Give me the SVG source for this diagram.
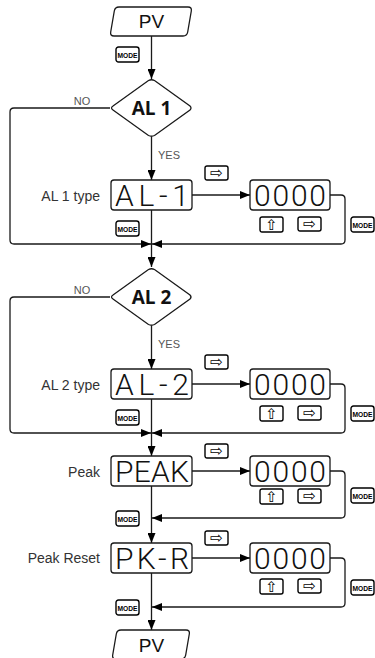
<svg xmlns="http://www.w3.org/2000/svg" width="375" height="658" viewBox="0 0 375 658">
<style>
.ln{fill:none;stroke:#1a1a1a;stroke-width:1.3}
.sh{fill:#fff;stroke:#1a1a1a;stroke-width:1.3}
.btn{fill:#fff;stroke:#000;stroke-width:1.4}
.seg{font-family:Roboto,"Liberation Sans",sans-serif;font-weight:300;font-size:30px;fill:#111}
.lbl{font-family:"Liberation Sans",Arial,sans-serif;font-size:14px;fill:#333}
.yn{font-family:"Liberation Sans",Arial,sans-serif;font-size:11px;fill:#555}
.dm{font-family:"Open Sans","Noto Sans",sans-serif;font-weight:bold;font-size:19px;fill:#111}
.pv{font-family:"Liberation Sans",Arial,sans-serif;font-size:19px;fill:#111}
.md{font-family:"Liberation Sans",Arial,sans-serif;font-weight:bold;font-size:7.5px;fill:#000}
.ar{font-family:"DejaVu Sans",sans-serif;font-size:15px;fill:#000}
</style>
<defs>
<marker id="ah" markerUnits="userSpaceOnUse" markerWidth="10" markerHeight="8" refX="10" refY="4" orient="auto"><path d="M0,0 L10,4 L0,8 z" fill="#000"/></marker>
<g id="mode"><rect class="btn" x="0" y="0" width="23" height="15" rx="2.5"/><text class="md" x="11.5" y="10.5" text-anchor="middle" textLength="20" lengthAdjust="spacingAndGlyphs">MODE</text></g>
<g id="rt"><rect class="btn" x="0" y="0" width="23" height="14" rx="2"/><text class="ar" x="11.5" y="12" text-anchor="middle">⇨</text></g>
<g id="up"><rect class="btn" x="0" y="0" width="23" height="15" rx="2"/><text class="ar" x="11.5" y="13" text-anchor="middle">⇧</text></g>
</defs>

<g id="connectors">
<path class="ln" d="M151.5,36 V79" marker-end="url(#ah)"/>
<path class="ln" d="M151.5,137 V180" marker-end="url(#ah)"/>
<path class="ln" d="M192,195 H250" marker-end="url(#ah)"/>
<path class="ln" d="M110,108 H14 Q10,108 10,112 V240 Q10,244 14,244 H151" marker-end="url(#ah)"/>
<path class="ln" d="M330,195 H341 Q345,195 345,199 V240 Q345,244 341,244 H152" marker-end="url(#ah)"/>
<path class="ln" d="M151.5,210 V267" marker-end="url(#ah)"/>
<path class="ln" d="M151.5,326 V369" marker-end="url(#ah)"/>
<path class="ln" d="M192,384 H250" marker-end="url(#ah)"/>
<path class="ln" d="M110,297 H14 Q10,297 10,301 V429 Q10,433 14,433 H151" marker-end="url(#ah)"/>
<path class="ln" d="M330,384 H341 Q345,384 345,388 V429 Q345,433 341,433 H152" marker-end="url(#ah)"/>
<path class="ln" d="M151.5,399 V456" marker-end="url(#ah)"/>
<path class="ln" d="M192,471 H250" marker-end="url(#ah)"/>
<path class="ln" d="M330,471 H341 Q345,471 345,475 V514 Q345,518 341,518 H152" marker-end="url(#ah)"/>
<path class="ln" d="M151.5,486 V543" marker-end="url(#ah)"/>
<path class="ln" d="M192,558 H250" marker-end="url(#ah)"/>
<path class="ln" d="M330,558 H341 Q345,558 345,562 V603 Q345,607 341,607 H152" marker-end="url(#ah)"/>
<path class="ln" d="M151.5,573 V630" marker-end="url(#ah)"/>
<text class="yn" x="82" y="105" text-anchor="middle">NO</text>
<text class="yn" x="158" y="159">YES</text>
<text class="yn" x="82" y="294" text-anchor="middle">NO</text>
<text class="yn" x="158" y="348">YES</text>
<use href="#mode" x="116" y="47"/>
<use href="#mode" x="116" y="221"/>
<use href="#mode" x="116" y="410"/>
<use href="#mode" x="116" y="511"/>
<use href="#mode" x="116" y="600"/>
<use href="#mode" x="351" y="217"/>
<use href="#mode" x="351" y="406"/>
<use href="#mode" x="351" y="488"/>
<use href="#mode" x="351" y="580"/>
</g>

<g id="pv-top">
<path class="sh" d="M119,7 L188,7 Q192,7 191.3,11 L187.7,32 Q187,36 183,36 L114,36 Q110,36 110.7,32 L114.3,11 Q115,7 119,7 Z"/>
<text class="pv" x="151.5" y="28" text-anchor="middle">PV</text>
</g>

<g id="al1">
<path class="sh" d="M113,106 L148.5,80.5 Q151.5,79 154.5,80.5 L190,106 Q192,108 190,110 L154.5,135.5 Q151.5,137 148.5,135.5 L113,110 Q110,108 113,106 Z"/>
<text class="dm" x="151.5" y="115" text-anchor="middle">AL 1</text>
</g>

<g id="al1-type">
<text class="lbl" x="100" y="201" text-anchor="end">AL 1 type</text>
<rect class="sh" x="111" y="180" width="81" height="30" rx="3"/>
<text class="seg" x="115" y="206" textLength="74" lengthAdjust="spacing">AL-1</text>
<use href="#rt" x="205" y="166"/>
</g>
<g id="al1-val">
<rect class="sh" x="250" y="180" width="80" height="30" rx="3"/>
<text class="seg" x="254" y="206" textLength="72" lengthAdjust="spacing">0000</text>
<use href="#up" x="260" y="217"/>
<use href="#rt" x="298" y="217"/>
</g>

<g id="al2">
<path class="sh" d="M113,295 L148.5,269.5 Q151.5,268 154.5,269.5 L190,295 Q192,297 190,299 L154.5,324.5 Q151.5,326 148.5,324.5 L113,299 Q110,297 113,295 Z"/>
<text class="dm" x="151.5" y="304" text-anchor="middle">AL 2</text>
</g>

<g id="al2-type">
<text class="lbl" x="100" y="390" text-anchor="end">AL 2 type</text>
<rect class="sh" x="111" y="369" width="81" height="30" rx="3"/>
<text class="seg" x="115" y="395" textLength="74" lengthAdjust="spacing">AL-2</text>
<use href="#rt" x="205" y="355"/>
</g>
<g id="al2-val">
<rect class="sh" x="250" y="369" width="80" height="30" rx="3"/>
<text class="seg" x="254" y="395" textLength="72" lengthAdjust="spacing">0000</text>
<use href="#up" x="260" y="406"/>
<use href="#rt" x="298" y="406"/>
</g>

<g id="peak">
<text class="lbl" x="100" y="477" text-anchor="end">Peak</text>
<rect class="sh" x="111" y="456" width="81" height="30" rx="3"/>
<text class="seg" x="115" y="482" textLength="74" lengthAdjust="spacing">PEAK</text>
<use href="#rt" x="205" y="444"/>
</g>
<g id="peak-val">
<rect class="sh" x="250" y="456" width="80" height="30" rx="3"/>
<text class="seg" x="254" y="482" textLength="72" lengthAdjust="spacing">0000</text>
<use href="#up" x="260" y="489"/>
<use href="#rt" x="298" y="489"/>
</g>

<g id="pk-r">
<text class="lbl" x="100" y="563" text-anchor="end">Peak Reset</text>
<rect class="sh" x="111" y="543" width="81" height="30" rx="3"/>
<text class="seg" x="115" y="569" textLength="74" lengthAdjust="spacing">PK-R</text>
<use href="#rt" x="205" y="531"/>
</g>
<g id="pk-r-val">
<rect class="sh" x="250" y="543" width="80" height="30" rx="3"/>
<text class="seg" x="254" y="569" textLength="72" lengthAdjust="spacing">0000</text>
<use href="#up" x="260" y="579"/>
<use href="#rt" x="298" y="579"/>
</g>

<g id="pv-bottom">
<path class="sh" d="M121,630 L186,630 Q190,630 189.3,634 L185.7,655 Q185,659 181,659 L116,659 Q112,659 112.7,655 L116.3,634 Q117,630 121,630 Z"/>
<text class="pv" x="151.5" y="652" text-anchor="middle">PV</text>
</g>
</svg>
